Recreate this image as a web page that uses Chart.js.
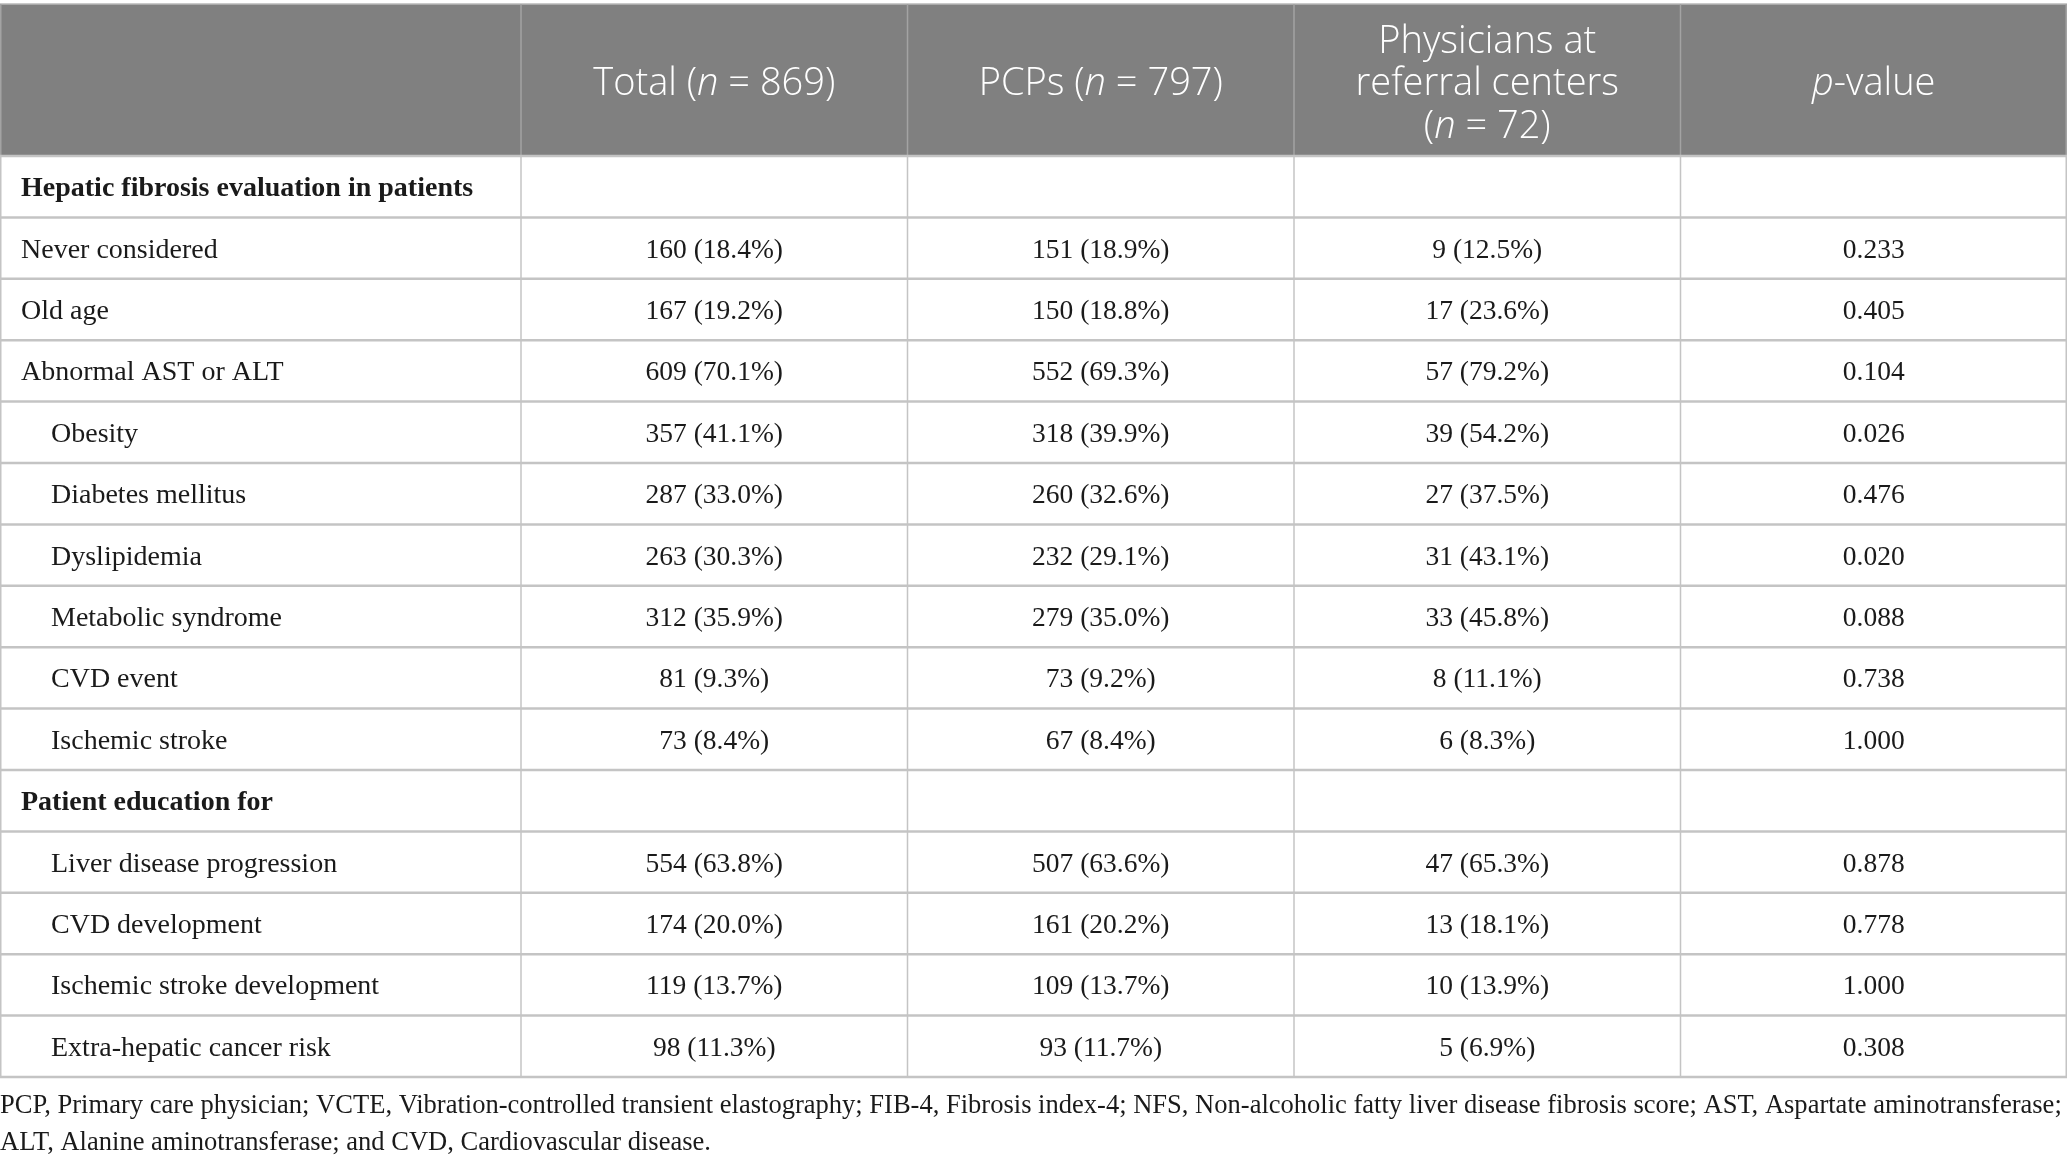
<!DOCTYPE html>
<html>
<head>
<meta charset="utf-8">
<script src="https://cdn.jsdelivr.net/npm/chart.js@4/dist/chart.umd.min.js"></script>
<style>
  html, body { margin: 0; padding: 0; background: #ffffff; }
  #wrap { width: 2067px; height: 1166px; position: relative; }
</style>
</head>
<body>
<div id="wrap"><canvas id="tabela"></canvas></div>
<script>
// dados da tabela
const rowLabels = [
    'Hepatic fibrosis evaluation in patients',
    'Never considered',
    'Old age',
    'Abnormal AST or ALT',
    'Obesity',
    'Diabetes mellitus',
    'Dyslipidemia',
    'Metabolic syndrome',
    'CVD event',
    'Ischemic stroke',
    'Patient education for',
    'Liver disease progression',
    'CVD development',
    'Ischemic stroke development',
    'Extra-hepatic cancer risk'
];
const rowLevel = [0, 0, 0, 0, 1, 1, 1, 1, 1, 1, 0, 1, 1, 1, 1];
const sectionRow = [true, false, false, false, false, false, false, false, false, false, true, false, false, false, false];

const totalN   = [null, 160, 167, 609, 357, 287, 263, 312, 81, 73, null, 554, 174, 119, 98];
const totalPct = [null, '18.4', '19.2', '70.1', '41.1', '33.0', '30.3', '35.9', '9.3', '8.4', null, '63.8', '20.0', '13.7', '11.3'];
const pcpN     = [null, 151, 150, 552, 318, 260, 232, 279, 73, 67, null, 507, 161, 109, 93];
const pcpPct   = [null, '18.9', '18.8', '69.3', '39.9', '32.6', '29.1', '35.0', '9.2', '8.4', null, '63.6', '20.2', '13.7', '11.7'];
const refN     = [null, 9, 17, 57, 39, 27, 31, 33, 8, 6, null, 47, 13, 10, 5];
const refPct   = [null, '12.5', '23.6', '79.2', '54.2', '37.5', '43.1', '45.8', '11.1', '8.3', null, '65.3', '18.1', '13.9', '6.9'];
const pValues  = [null, '0.233', '0.405', '0.104', '0.026', '0.476', '0.020', '0.088', '0.738', '1.000', null, '0.878', '0.778', '1.000', '0.308'];

const footnote = [
    'PCP, Primary care physician; VCTE, Vibration-controlled transient elastography; FIB-4, Fibrosis index-4; NFS, Non-alcoholic fatty liver disease fibrosis score; AST, Aspartate aminotransferase;',
    'ALT, Alanine aminotransferase; and CVD, Cardiovascular disease.'
];

// layout (unidades do eixo x)
const colEdges = [0, 1.348, 2.348, 3.348, 4.348, 5.348];

const HEADER_TOP = 4;
const HEADER_BOTTOM = 156;
const TABLE_BOTTOM = 1077;

const corCabecalho = '#808080';
const corLinha = '#c4c4c4';
const serif = '"Liberation Serif", "Times New Roman", serif';
const sans = '"Open Sans", "Noto Sans", sans-serif';

function colCenter(c) {
    return (colEdges[c] + colEdges[c + 1]) / 2;
}

function montarPontos(ns, pcts, col) {
    let pontos = [];
    for (let i = 0; i < rowLabels.length; i++) {
        if (ns[i] === null) continue;
        let txt = pcts ? ns[i] + ' (' + pcts[i] + '%)' : ns[i];
        pontos.push({ x: colCenter(col), y: rowLabels[i], texto: txt });
    }
    return pontos;
}

// cabecalho: segmentos [texto, italico]
const cabecalho = [
    { col: 1, linhas: [[['Total (', false], ['n', true], [' = 869)', false]]] },
    { col: 2, linhas: [[['PCPs (', false], ['n', true], [' = 797)', false]]] },
    { col: 3, linhas: [
        [['Physicians at', false]],
        [['referral centers', false]],
        [['(', false], ['n', true], [' = 72)', false]]
    ] },
    { col: 4, linhas: [[['p', true], ['-value', false]]] }
];

function textoRico(ctx, segs, cx, y, size) {
    let larguras = [];
    let total = 0;
    for (let s of segs) {
        ctx.font = (s[1] ? 'italic ' : '') + '300 ' + size + 'px ' + sans;
        let w = ctx.measureText(s[0]).width;
        larguras.push(w);
        total += w;
    }
    let x = cx - total / 2;
    ctx.textAlign = 'left';
    for (let k = 0; k < segs.length; k++) {
        ctx.font = (segs[k][1] ? 'italic ' : '') + '300 ' + size + 'px ' + sans;
        ctx.fillText(segs[k][0], x, y);
        x += larguras[k];
    }
}

const pluginTabela = {
    id: 'pluginTabela',
    beforeDraw(chart) {
        const ctx = chart.ctx;
        const xs = chart.scales.x;
        const ys = chart.scales.y;
        const W = chart.width;
        ctx.save();
        ctx.fillStyle = '#ffffff';
        ctx.fillRect(0, 0, W, chart.height);

        // fundo do cabecalho
        ctx.fillStyle = corCabecalho;
        ctx.fillRect(0, HEADER_TOP, W, HEADER_BOTTOM - HEADER_TOP);
        ctx.strokeStyle = '#b8b8b8';
        ctx.lineWidth = 1.5;
        ctx.beginPath();
        ctx.moveTo(0, HEADER_TOP);
        ctx.lineTo(W, HEADER_TOP);
        ctx.stroke();

        // linhas verticais
        for (let c = 0; c < colEdges.length; c++) {
            let px = xs.getPixelForValue(colEdges[c]);
            if (c === 0) px = 0.75;
            if (c === colEdges.length - 1) px = W - 0.75;
            ctx.strokeStyle = '#a3a3a3';
            ctx.lineWidth = 1.5;
            ctx.beginPath();
            ctx.moveTo(px, HEADER_TOP);
            ctx.lineTo(px, HEADER_BOTTOM);
            ctx.stroke();
            ctx.strokeStyle = corLinha;
            ctx.beginPath();
            ctx.moveTo(px, HEADER_BOTTOM);
            ctx.lineTo(px, TABLE_BOTTOM);
            ctx.stroke();
        }

        // linhas horizontais
        const passo = (ys.bottom - ys.top) / rowLabels.length;
        ctx.strokeStyle = corLinha;
        ctx.lineWidth = 2.5;
        for (let i = 0; i <= rowLabels.length; i++) {
            let py = i < rowLabels.length ? ys.getPixelForValue(i) - passo / 2 : ys.getPixelForValue(i - 1) + passo / 2;
            ctx.beginPath();
            ctx.moveTo(0, py);
            ctx.lineTo(W, py);
            ctx.stroke();
        }

        // textos do cabecalho
        ctx.fillStyle = '#ffffff';
        ctx.textBaseline = 'alphabetic';
        for (let h of cabecalho) {
            let cx = xs.getPixelForValue(colCenter(h.col));
            let n = h.linhas.length;
            let base = 95;
            for (let k = 0; k < n; k++) {
                let y = base + (k - (n - 1) / 2) * 42.5;
                textoRico(ctx, h.linhas[k], cx, y, 38);
            }
        }
        ctx.restore();
    },
    afterDatasetsDraw(chart) {
        const ctx = chart.ctx;
        const ys = chart.scales.y;
        ctx.save();
        ctx.fillStyle = '#1a1a1a';
        ctx.textBaseline = 'alphabetic';

        // rotulos das linhas
        ctx.textAlign = 'left';
        for (let i = 0; i < rowLabels.length; i++) {
            ctx.font = (sectionRow[i] ? 'bold ' : '') + '28px ' + serif;
            let x = rowLevel[i] === 1 ? 51 : 21;
            ctx.fillText(rowLabels[i], x, ys.getPixelForValue(i) + 9.5);
        }

        // valores
        ctx.textAlign = 'center';
        ctx.font = '27.5px ' + serif;
        chart.data.datasets.forEach(function (ds, d) {
            const meta = chart.getDatasetMeta(d);
            meta.data.forEach(function (pt, j) {
                ctx.fillText(String(ds.data[j].texto), pt.x, pt.y + 9.5);
            });
        });

        // nota de rodape
        ctx.textAlign = 'left';
        let size = 26;
        ctx.font = size + 'px ' + serif;
        let w = ctx.measureText(footnote[0]).width;
        size = size * (chart.width - 4) / w;
        ctx.font = size + 'px ' + serif;
        ctx.fillText(footnote[0], 0, 1113);
        ctx.fillText(footnote[1], 0, 1150);
        ctx.restore();
    }
};

const ctxTabela = document.getElementById('tabela');

new Chart(ctxTabela, {
    type: 'scatter',
    data: {
        datasets: [
            { label: 'Total (n = 869)', data: montarPontos(totalN, totalPct, 1) },
            { label: 'PCPs (n = 797)', data: montarPontos(pcpN, pcpPct, 2) },
            { label: 'Physicians at referral centers (n = 72)', data: montarPontos(refN, refPct, 3) },
            { label: 'p-value', data: montarPontos(pValues, null, 4) }
        ]
    },
    options: {
        responsive: true,
        maintainAspectRatio: false,
        animation: false,
        devicePixelRatio: 1,
        layout: {
            padding: { top: HEADER_BOTTOM, bottom: 1166 - TABLE_BOTTOM, left: 0, right: 0 }
        },
        elements: {
            point: { radius: 0, hoverRadius: 0 }
        },
        scales: {
            x: {
                type: 'linear',
                min: colEdges[0],
                max: colEdges[colEdges.length - 1],
                display: false
            },
            y: {
                type: 'category',
                labels: rowLabels,
                offset: true,
                display: false
            }
        },
        plugins: {
            legend: { display: false },
            tooltip: { enabled: false }
        }
    },
    plugins: [pluginTabela]
});
</script>
</body>
</html>
